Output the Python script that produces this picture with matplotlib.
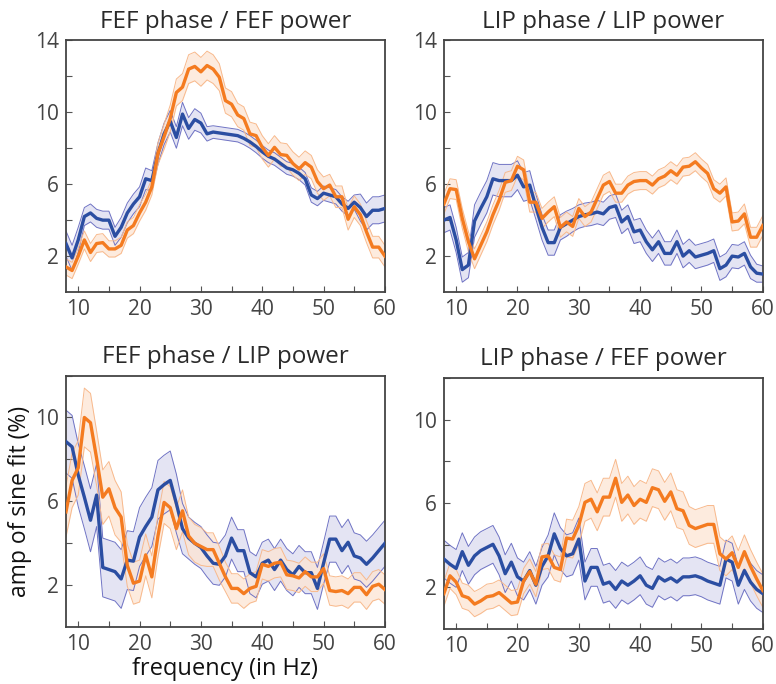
import numpy as np
import matplotlib
matplotlib.use("Agg")
import matplotlib.pyplot as plt
from matplotlib.ticker import FixedLocator

plt.rcParams['font.family'] = ['Open Sans', 'DejaVu Sans']

freq = np.arange(8, 61)

# FEF phase / FEF power
ff_blue = [2.7, 1.9, 2.9, 4.2, 4.4, 4.1, 4.0, 4.0, 3.1, 3.6, 4.4, 4.9, 5.3, 6.3, 6.2,
           7.7, 8.8, 9.5, 8.6, 9.9, 9.1, 9.6, 9.4, 8.8, 8.9, 8.85, 8.8, 8.75, 8.7, 8.55,
           8.35, 8.1, 7.8, 7.55, 7.4, 7.15, 6.9, 6.8, 6.6, 6.3, 5.4, 5.2, 5.5, 5.4, 5.3,
           4.9, 4.65, 5.0, 4.7, 4.2, 4.55, 4.55, 4.65]
ff_blue_err = [0.7, 0.7, 0.7, 0.5, 0.5, 0.5, 0.5, 0.5, 0.5, 0.55, 0.55, 0.55, 0.55, 0.6, 0.55,
               0.6, 0.6, 0.6, 0.6, 0.65, 0.6, 0.6, 0.55, 0.4, 0.35, 0.35, 0.35, 0.35, 0.35, 0.35,
               0.35, 0.35, 0.35, 0.35, 0.35, 0.35, 0.35, 0.35, 0.35, 0.35, 0.4, 0.4, 0.4, 0.4, 0.4,
               0.4, 0.4, 0.4, 0.75, 0.75, 0.75, 0.75, 0.75]
ff_orange = [1.4, 1.2, 2.0, 2.9, 2.2, 2.7, 2.75, 2.4, 2.4, 2.6, 3.45, 3.7, 4.4, 5.0, 5.85,
             7.7, 8.65, 9.65, 11.1, 11.4, 12.4, 12.55, 12.25, 12.6, 12.4, 11.95, 10.65, 10.45, 9.85, 9.65,
             8.8, 8.7, 8.05, 7.6, 8.05, 7.65, 7.6, 7.15, 6.85, 7.2, 6.95, 6.15, 5.75, 5.95, 5.3,
             5.3, 4.05, 4.75, 4.3, 3.35, 2.5, 2.5, 2.0]
ff_orange_err = [0.45, 0.45, 0.45, 0.5, 0.5, 0.5, 0.5, 0.45, 0.45, 0.45, 0.45, 0.45, 0.45, 0.45, 0.45,
                 0.6, 0.7, 0.75, 0.75, 0.75, 0.8, 0.8, 0.8, 0.8, 0.8, 0.75, 0.7, 0.7, 0.65, 0.65,
                 0.65, 0.65, 0.65, 0.65, 0.65, 0.65, 0.65, 0.65, 0.65, 0.65, 0.65, 0.65, 0.65, 0.6, 0.6,
                 0.6, 0.6, 0.6, 0.6, 0.6, 0.6, 0.6, 0.6]

# LIP phase / LIP power
ll_blue = [4.0, 4.15, 2.9, 1.25, 1.5, 3.95, 4.65, 5.3, 6.3, 6.2, 6.2, 6.2, 6.5, 5.85, 5.95,
           4.75, 3.6, 2.75, 2.75, 3.6, 3.8, 4.0, 4.2, 4.3, 4.35, 4.45, 4.35, 4.7, 4.8, 3.9,
           4.2, 3.35, 3.45, 2.8, 2.35, 2.8, 2.15, 2.15, 2.8, 2.0, 2.3, 1.95, 2.05, 2.15, 2.3,
           1.3, 1.5, 2.0, 1.95, 2.15, 1.4, 1.05, 1.0]
ll_blue_err = [0.7, 0.7, 0.7, 0.7, 0.7, 0.9, 0.9, 0.9, 0.9, 0.9, 0.9, 0.9, 0.8, 0.8, 0.8,
               0.7, 0.7, 0.7, 0.7, 0.7, 0.7, 0.65, 0.65, 0.65, 0.65, 0.65, 0.65, 0.65, 0.65, 0.65,
               0.65, 0.65, 0.65, 0.65, 0.65, 0.65, 0.65, 0.65, 0.65, 0.65, 0.65, 0.65, 0.65, 0.65, 0.65,
               0.65, 0.65, 0.65, 0.65, 0.65, 0.65, 0.5, 0.45]
ll_orange = [4.9, 5.75, 5.7, 4.1, 2.8, 1.85, 2.6, 3.35, 4.3, 5.1, 6.1, 6.2, 7.0, 6.8, 5.0,
             5.0, 4.1, 4.45, 4.75, 3.6, 3.9, 3.65, 4.65, 4.2, 4.45, 5.2, 5.95, 6.15, 5.5, 5.5,
             5.95, 6.15, 6.2, 6.2, 5.95, 6.3, 6.45, 6.75, 6.5, 6.95, 7.0, 7.25, 6.9, 6.6, 5.75,
             5.5, 5.85, 3.9, 3.95, 4.35, 3.05, 3.05, 3.7]
ll_orange_err = [0.55, 0.55, 0.55, 0.55, 0.55, 0.55, 0.55, 0.55, 0.55, 0.55, 0.55, 0.55, 0.55, 0.55, 0.55,
                 0.55, 0.55, 0.55, 0.55, 0.55, 0.55, 0.55, 0.55, 0.55, 0.55, 0.55, 0.55, 0.55, 0.5, 0.5,
                 0.5, 0.5, 0.5, 0.5, 0.5, 0.5, 0.5, 0.5, 0.5, 0.5, 0.5, 0.5, 0.5, 0.5, 0.5,
                 0.5, 0.5, 0.5, 0.5, 0.55, 0.55, 0.55, 0.55]

# FEF phase / LIP power
fl_blue = [8.85, 8.6, 7.25, 6.2, 5.1, 6.3, 2.85, 2.75, 2.65, 2.3, 3.2, 3.15, 4.3, 4.8, 5.25,
           6.55, 6.8, 7.0, 5.9, 4.7, 4.25, 4.0, 3.8, 3.4, 3.05, 3.0, 3.4, 4.25, 3.65, 3.65,
           2.6, 2.4, 3.05, 3.2, 2.75, 3.2, 2.75, 2.5, 2.9, 2.6, 2.6, 1.85, 3.05, 4.2, 4.2,
           3.65, 4.05, 3.4, 3.3, 3.0, 3.3, 3.65, 4.0]
fl_blue_err = [1.5, 1.5, 1.5, 1.5, 1.5, 1.5, 1.4, 1.4, 1.4, 1.4, 1.4, 1.4, 1.4, 1.4, 1.4,
               1.4, 1.4, 1.4, 1.4, 1.2, 1.0, 1.0, 1.0, 1.0, 1.0, 1.0, 1.0, 1.0, 1.0, 1.0,
               1.0, 1.0, 1.0, 1.0, 1.0, 1.0, 1.0, 1.0, 1.0, 1.0, 1.0, 1.0, 1.0, 1.1, 1.1,
               1.1, 1.1, 1.1, 1.1, 1.1, 1.1, 1.1, 1.1]
fl_orange = [5.5, 7.0, 7.6, 10.0, 9.75, 8.05, 6.2, 6.6, 5.7, 5.25, 2.95, 2.1, 2.2, 3.45, 2.4,
             4.35, 5.95, 5.7, 4.7, 5.55, 4.35, 4.0, 3.85, 3.7, 3.7, 3.05, 2.4, 1.85, 1.85, 1.6,
             1.85, 1.95, 3.0, 2.9, 3.05, 3.1, 2.5, 2.45, 2.35, 2.65, 2.4, 2.4, 2.8, 1.75, 1.7,
             1.75, 1.6, 1.9, 1.9, 1.55, 1.95, 2.05, 1.8]
fl_orange_err = [1.2, 1.3, 1.3, 1.4, 1.4, 1.3, 1.3, 1.3, 1.3, 1.2, 1.0, 1.0, 1.0, 1.0, 1.0,
                 1.0, 1.0, 1.0, 1.0, 1.0, 0.9, 0.9, 0.9, 0.8, 0.8, 0.8, 0.7, 0.7, 0.7, 0.7,
                 0.7, 0.7, 0.7, 0.7, 0.7, 0.7, 0.7, 0.7, 0.7, 0.7, 0.7, 0.7, 0.7, 0.7, 0.7,
                 0.7, 0.7, 0.7, 0.7, 0.7, 0.7, 0.7, 0.7]

# LIP phase / FEF power
lf_blue = [3.35, 3.1, 2.9, 3.7, 3.05, 3.5, 3.75, 3.9, 4.05, 3.5, 2.65, 3.2, 2.5, 2.3, 2.8,
           2.1, 3.0, 3.5, 4.55, 3.85, 3.5, 3.6, 4.3, 2.3, 2.95, 2.95, 2.15, 2.25, 1.9, 2.3,
           2.1, 2.3, 2.55, 2.1, 1.95, 2.5, 2.3, 2.45, 2.25, 2.5, 2.5, 2.55, 2.45, 2.3, 2.2,
           2.1, 3.35, 3.2, 2.1, 2.8, 2.25, 1.9, 1.7]
lf_blue_err = [0.9, 0.9, 0.9, 0.9, 0.9, 0.9, 0.9, 0.9, 0.9, 0.9, 0.9, 0.9, 0.9, 0.9, 0.9,
               0.9, 0.9, 1.0, 1.0, 1.0, 1.0, 1.0, 1.0, 0.9, 0.9, 0.9, 0.9, 0.9, 0.9, 0.9,
               0.9, 0.9, 0.9, 0.9, 0.9, 0.9, 0.9, 0.9, 0.9, 0.9, 0.9, 0.9, 0.9, 0.9, 0.9,
               0.9, 0.9, 0.9, 0.9, 0.9, 0.9, 0.9, 0.9]
lf_orange = [1.7, 2.55, 2.25, 1.6, 1.5, 1.2, 1.35, 1.55, 1.6, 1.75, 1.5, 1.25, 1.3, 2.3, 2.75,
             2.15, 3.45, 3.5, 2.95, 2.85, 4.35, 4.3, 4.95, 6.05, 6.2, 5.6, 6.3, 6.3, 7.2, 6.05,
             6.4, 5.9, 6.2, 6.05, 6.75, 6.65, 6.1, 6.55, 5.75, 5.65, 4.95, 4.8, 4.9, 5.0, 5.0,
             3.6, 3.35, 3.65, 2.95, 3.7, 3.0, 2.4, 1.85]
lf_orange_err = [0.6, 0.6, 0.6, 0.6, 0.6, 0.6, 0.6, 0.6, 0.6, 0.6, 0.6, 0.6, 0.6, 0.6, 0.6,
                 0.6, 0.6, 0.6, 0.6, 0.6, 0.9, 0.9, 0.9, 0.9, 0.9, 0.9, 0.9, 0.9, 0.9, 0.9,
                 0.9, 0.9, 0.9, 0.9, 0.9, 0.9, 0.9, 0.9, 0.9, 0.9, 0.9, 0.9, 0.9, 0.9, 0.9,
                 0.8, 0.8, 0.8, 0.8, 0.8, 0.8, 0.8, 0.8]

titles = ["FEF phase / FEF power", "LIP phase / LIP power",
          "FEF phase / LIP power", "LIP phase / FEF power"]

BLUE = "#2b4ea2"
BLUE_EDGE = "#6f73c4"
BLUE_FILL = "#dcdcf0"
ORANGE = "#f47b20"
ORANGE_EDGE = "#f8b98c"
ORANGE_FILL = "#fde5d3"
TXT = "#2a2a2a"


def draw_band(ax, y, err, line_col, edge_col, fill_col):
    y = np.array(y)
    err = np.array(err)
    ax.fill_between(freq, y - err, y + err, color=fill_col, alpha=0.75, lw=0, zorder=1)
    ax.plot(freq, y - err, color=edge_col, lw=0.7, zorder=2)
    ax.plot(freq, y + err, color=edge_col, lw=0.7, zorder=2)
    ax.plot(freq, y, color=line_col, lw=2.4, zorder=3)


def style_axes(ax, title, top):
    ax.set_xlim(8, 60)
    ax.xaxis.set_major_locator(FixedLocator([10, 20, 30, 40, 50, 60]))
    ax.xaxis.set_minor_locator(FixedLocator([15, 25, 35, 45, 55]))
    if top:
        ax.set_ylim(0, 14)
        ax.yaxis.set_major_locator(FixedLocator([2, 6, 10, 14]))
        ax.yaxis.set_minor_locator(FixedLocator([4, 8, 12]))
    else:
        ax.set_ylim(0, 12)
        ax.yaxis.set_major_locator(FixedLocator([2, 6, 10]))
        ax.yaxis.set_minor_locator(FixedLocator([4, 8, 12]))
    ax.tick_params(which="both", direction="in", colors="#555555", labelcolor="#444444",
                   labelsize=15, top=False, right=False)
    ax.tick_params(which="major", length=4, width=0.8, pad=5)
    ax.tick_params(which="minor", length=4, width=0.8)
    for sp in ax.spines.values():
        sp.set_color("#444444")
        sp.set_linewidth(1.3)
    ax.set_title(title, fontsize=17.5, color=TXT, pad=9)


fig = plt.figure(figsize=(7.76, 6.84), dpi=100)
positions = [[0.085, 0.573, 0.411, 0.368], [0.572, 0.573, 0.411, 0.368],
             [0.085, 0.083, 0.411, 0.368], [0.572, 0.080, 0.411, 0.368]]
series = [(ff_blue, ff_blue_err, ff_orange, ff_orange_err),
          (ll_blue, ll_blue_err, ll_orange, ll_orange_err),
          (fl_blue, fl_blue_err, fl_orange, fl_orange_err),
          (lf_blue, lf_blue_err, lf_orange, lf_orange_err)]

axes = []
for i in range(4):
    ax = fig.add_axes(positions[i])
    b, be, o, oe = series[i]
    draw_band(ax, b, be, BLUE, BLUE_EDGE, BLUE_FILL)
    draw_band(ax, o, oe, ORANGE, ORANGE_EDGE, ORANGE_FILL)
    style_axes(ax, titles[i], i < 2)
    axes.append(ax)

axes[2].set_ylabel("amp of sine fit (%)", fontsize=16.5, color="#111111", labelpad=2)
axes[2].set_xlabel("frequency (in Hz)", fontsize=17, color="#111111", labelpad=1)

fig.savefig("out.png", dpi=100)
